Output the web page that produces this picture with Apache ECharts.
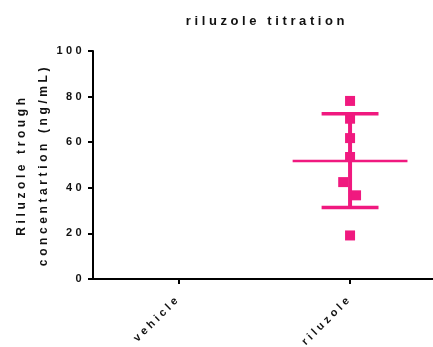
<!DOCTYPE html>
<html><head><meta charset="utf-8">
<script src="https://cdn.jsdelivr.net/npm/echarts@6/dist/echarts.min.js"></script>
<style>html,body{margin:0;padding:0;background:#fff}#c{width:433px;height:347px}</style>
</head><body><div id="c"></div>
<script>
// Prism-like letter spacing (styling only)
(function(){
  var P = CanvasRenderingContext2D.prototype;
  var SP = {'13':3.6,'12':3.6,'11':3.4};
  function setSp(ctx){
    var m = /(\d+(?:\.\d+)?)px/.exec(ctx.font || '');
    var s = m ? SP[m[1]] : 0;
    try { ctx.letterSpacing = (s || 0) + 'px'; } catch(e) {}
  }
  var f = P.fillText, st = P.strokeText;
  P.fillText = function(){ setSp(this); return f.apply(this, arguments); };
  P.strokeText = function(){ setSp(this); return st.apply(this, arguments); };
})();

var categories = ['vehicle', 'riluzole'];
var yTicks = [0, 20, 40, 60, 80, 100];
// riluzole group points: [category index + jitter, value]
var riluzoleX = [1, 1, 1, 1, 0.96, 1.035, 1];
var riluzoleY = [78.1, 70.3, 61.8, 53.5, 42.5, 36.7, 19.1];
var meanValue = [51.8];
var sdUpper = [72.5];
var sdLower = [31.4];

var PINK = '#F0197F';
var FONT = 'Liberation Sans, Arial, sans-serif';

var chart = echarts.init(document.getElementById('c'), null, {renderer: 'canvas'});
var points = riluzoleX.map(function(x, i){ return [x, riluzoleY[i]]; });

chart.setOption({
  animation: false,
  title: {
    text: 'riluzole titration', left: 262, top: 10, textAlign: 'center',
    textStyle: {fontFamily: FONT, fontWeight: 'bold', fontSize: 13, color: '#111'}
  },
  grid: {left: 93, right: 0, top: 51, bottom: 68, containLabel: false, outerBoundsMode: 'none'},
  xAxis: {
    type: 'value', min: -0.5, max: 1.484,
    splitLine: {show: false},
    axisLine: {onZero: false, lineStyle: {color: '#000', width: 2}},
    axisTick: {show: true, customValues: [0, 1], length: 5, lineStyle: {color: '#000', width: 2}},
    axisLabel: {
      customValues: [0, 1], rotate: 45, margin: 18,
      formatter: function(v){ return categories[Math.round(v)]; },
      fontFamily: FONT, fontWeight: 'bold', fontSize: 11, color: '#111'
    }
  },
  yAxis: {
    type: 'value', min: 0, max: 100, interval: 20,
    name: 'Riluzole trough\nconcentartion (ng/mL)',
    nameLocation: 'middle', nameGap: 38, nameRotate: 90,
    nameTextStyle: {fontFamily: FONT, fontWeight: 'bold', fontSize: 12, color: '#111', lineHeight: 22.5},
    splitLine: {show: false},
    axisLine: {show: true, onZero: false, lineStyle: {color: '#000', width: 2}},
    axisTick: {show: true, length: 5, lineStyle: {color: '#000', width: 2}},
    axisLabel: {
      margin: 8, fontFamily: FONT, fontWeight: 'bold', fontSize: 11, color: '#111',
      formatter: function(v){ return yTicks.indexOf(v) >= 0 ? String(v) : ''; }
    }
  },
  series: [
    {
      type: 'custom',
      data: [[1, meanValue[0], sdLower[0], sdUpper[0]]],
      renderItem: function(params, api){
        var x = api.value(0);
        var m = api.coord([x, api.value(1)]);
        var lo = api.coord([x, api.value(2)]);
        var hi = api.coord([x, api.value(3)]);
        var capL = api.coord([x - 0.166, 0])[0], capR = api.coord([x + 0.166, 0])[0];
        var mL = api.coord([x - 0.335, 0])[0], mR = api.coord([x + 0.335, 0])[0];
        return {type: 'group', children: [
          {type: 'line', shape: {x1: m[0], y1: hi[1], x2: m[0], y2: lo[1]}, style: {stroke: PINK, lineWidth: 4}},
          {type: 'line', shape: {x1: capL, y1: hi[1], x2: capR, y2: hi[1]}, style: {stroke: PINK, lineWidth: 3.5}},
          {type: 'line', shape: {x1: capL, y1: lo[1], x2: capR, y2: lo[1]}, style: {stroke: PINK, lineWidth: 3.5}},
          {type: 'line', shape: {x1: mL, y1: m[1], x2: mR, y2: m[1]}, style: {stroke: PINK, lineWidth: 2.5}}
        ]};
      },
      z: 2
    },
    {
      type: 'scatter', data: points, symbol: 'rect', symbolSize: 10,
      itemStyle: {color: PINK, opacity: 1}, z: 3
    }
  ]
});
</script></body></html>
